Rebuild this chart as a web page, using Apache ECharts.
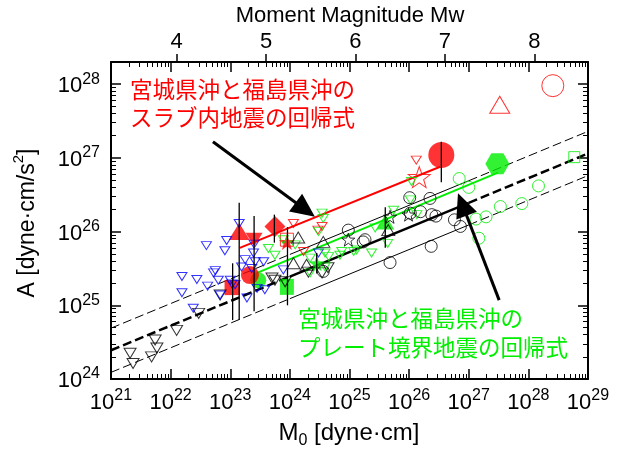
<!DOCTYPE html>
<html><head><meta charset="utf-8">
<script src="https://cdn.jsdelivr.net/npm/echarts@6/dist/echarts.min.js"></script>
<style>html,body{margin:0;padding:0;background:#fff}#c{width:623px;height:453px}</style>
</head><body><div id="c"></div>
<script>
// ---- data: [log10 M0 (dyne·cm), log10 A (dyne·cm/s^2)] ----
const blkDownTri = [[21.32,24.35],[21.37,24.21],[21.68,24.30],[21.74,24.53],[21.77,24.42],[22.10,24.66],[22.47,24.89],[22.83,25.14],[23.70,25.37],[23.75,25.34],[23.92,25.32],[24.31,25.45],[24.54,25.44],[24.64,25.51]];
const blueDownTri = [[22.19,25.39],[22.44,25.35],[22.62,25.26],[22.75,25.47],[22.72,25.44],[22.19,25.17],[22.83,25.14],[22.38,24.96],[22.60,25.81],[22.94,25.88],[22.91,25.74],[23.03,25.29],[23.08,25.28],[23.28,25.10],[23.39,25.71],[23.25,25.62],[23.19,25.52],[23.42,25.59],[23.56,25.59],[23.45,25.23],[23.15,26.11],[23.40,25.83],[23.36,25.50],[23.89,25.48],[23.58,25.21],[22.80,25.34],[24.48,25.71],[23.00,25.34]];
const redDownTri = [[24.06,26.11],[24.54,26.07],[24.23,25.73],[24.47,26.02],[26.12,26.97]];
const greenDownTri = [[24.54,26.25],[24.48,26.00],[23.64,25.77],[23.75,25.68],[24.09,25.82],[23.89,25.89],[24.34,25.64],[24.59,25.52],[24.84,25.68],[25.07,25.73],[25.37,25.71],[24.65,25.66],[24.56,26.18],[24.34,25.44],[24.59,25.71],[24.87,25.73],[25.12,25.75],[25.43,26.05],[25.64,25.84],[25.74,26.29],[26.04,26.68],[26.02,26.43],[26.13,26.23]];
const blkCircle = [[26.01,26.46],[26.35,26.45],[26.02,26.25],[26.19,26.27],[26.38,26.23],[26.45,26.21],[26.76,26.16],[26.86,26.07],[26.37,25.80],[25.68,25.58],[25.23,25.86],[24.98,26.02],[25.26,25.89],[24.56,25.46]];
const greenCircle = [[26.84,26.72],[27.00,26.60],[28.17,26.62],[27.89,26.38],[27.53,26.34],[27.29,26.20],[27.12,26.17],[27.17,25.91]];
const blkUpTri = [[24.56,25.86],[25.65,26.02],[24.14,25.92],[24.06,25.57],[24.28,25.55]];
const blkStar = [[24.98,25.89],[25.99,26.23],[25.68,26.20]];
const redFillTri = [[23.15,26.00]];
const redFillDownTri = [[23.40,25.89]];
const redFillDiamond = [[23.75,26.07]];
const redFillCircle = [[23.33,25.41]];
const redFillSquare = [[23.03,25.24]];
const redFillStar = [[23.95,25.86]];
const redBigCircle = [[26.54,27.04]];
const redOpenStar = [[26.17,26.74]];
const redOpenTri = [[27.52,27.72]];
const redOpenCircle = [[28.41,27.98]];
const redOpenSquare = [[23.95,25.89]];
const greenFillCircle = [[23.47,25.34]];
const greenFillSquare = [[23.95,25.25]];
const greenFillTri = [[25.60,26.13]];
const greenFillStar = [[24.45,25.57]];
const greenFillHex = [[27.48,26.92]];
const greenOpenSquare = [[28.77,27.01]];
// error bars: [log M0, log A high, log A low]
const errBars = [[23.15,26.39,24.80],[23.40,26.21,24.92],[23.04,25.57,24.80],[23.74,26.23,25.85],[23.96,26.06,25.00],[25.60,26.33,25.78],[26.54,27.22,26.67],[24.45,25.71,25.43]];
// regression lines
const meanDashL = [[21,24.39],[24,25.39]], meanSolid = [[24,25.39],[27,26.39]], meanDashR = [[27,26.39],[29,27.06]];
const upDashL = [[21,24.69],[24,25.69]], upSolid = [[24,25.69],[27,26.69]], upDashR = [[27,26.69],[29,27.36]];
const loDashL = [[21,24.09],[24,25.09]], loSolid = [[24,25.09],[27,26.09]], loDashR = [[27,26.09],[29,26.76]];
const redLine = [[23.16,25.78],[26.52,26.88]];
const greenLine = [[23.45,25.44],[27.49,26.80]];
// arrows: [tail logM, tail logA, tip logM, tip logA]
const arrows = [[22.71,27.22,24.42,26.20],[27.51,25.07,26.82,26.52]];
// axes
const X_RANGE = [21, 29];
const Y_RANGE = [24, Math.log10(2e28)];
const mwTicks = [4,5,6,7,8];
const minorFactors = [2,3,4,5,6,7,8,9];
const redText = ['宮城県沖と福島県沖の','スラブ内地震の回帰式'];
const greenText = ['宮城県沖と福島県沖の','プレート境界地震の回帰式'];

// ---- build ----
const LAT = '"Liberation Sans", Arial, sans-serif';
const CJK = '"Noto Sans CJK JP", sans-serif';
const RED = '#ff0000', GREEN = '#00ee00', BLUE = '#0000ff';
const toVal = a => a.map(p => [Math.pow(10,p[0]), Math.pow(10,p[1])]);
function minorList(r){ const o=[]; for(let d=Math.floor(r[0]); d<r[1]; d++) for(const f of minorFactors){const v=d+Math.log10(f); if(v>r[0]&&v<r[1]) o.push(v);} return o; }
function majorList(r){ const o=[]; for(let d=Math.ceil(r[0]); d<=r[1]; d++) o.push(d); return o; }
const mw = lm => (lm - 16.1) / 1.5;

const STAR = 'path://M50 0L61.76 33.82L97.55 34.55L69.02 56.18L79.39 90.45L50 70L20.61 90.45L30.98 56.18L2.45 34.55L38.24 33.82Z';
const HEX = 'path://M25 0L75 0L100 43.3L75 86.6L25 86.6L0 43.3Z';

function supFmt(v){ const l=Math.log10(v), e=Math.round(l); if(Math.abs(l-e)>1e-6) return ''; return '{b|10}{s|'+e+'}'; }
const supRich = {
  b:{fontSize:22,fontFamily:LAT,color:'#000',lineHeight:26,verticalAlign:'bottom'},
  s:{fontSize:16,fontFamily:LAT,color:'#000',lineHeight:14,verticalAlign:'top'}
};
const hide = {show:false};
function minorAxis(pos, r){
  return {type:'value', position:pos, min:r[0], max:r[1], axisLine:hide, axisLabel:hide, splitLine:hide,
    axisTick:{show:true, inside:true, length:5, customValues:minorList(r), lineStyle:{color:'#000',width:1}}};
}
function majorMirror(pos, r){
  return {type:'value', position:pos, min:r[0], max:r[1], axisLine:{show:true,lineStyle:{color:'#000',width:2}}, axisLabel:hide, splitLine:hide,
    axisTick:{show:true, inside:true, length:10, customValues:majorList(r), lineStyle:{color:'#000',width:1.5}}};
}

function scat(name, data, symbol, size, color, filled, rotate, z){
  return {type:'scatter', name, data:toVal(data), symbol, symbolSize:size, symbolRotate:rotate||0, z:z||3,
    itemStyle: filled ? {color, borderWidth:0} : {color:'rgba(0,0,0,0)', borderColor:color, borderWidth:1},
    emphasis:{disabled:true}, silent:true};
}
function line(data, color, width, type, z){
  return {type:'line', data:toVal(data), symbol:'none', z:z||2, silent:true,
    lineStyle:{color, width, type: type||'solid'}};
}

const series = [
  line(meanDashL,'#000',2.5,[9,4]), line(meanSolid,'#000',2.5), line(meanDashR,'#000',2.5,[9,4]),
  line(upDashL,'#000',1,[9,4]), line(upSolid,'#000',1), line(upDashR,'#000',1,[9,4]),
  line(loDashL,'#000',1,[9,4]), line(loSolid,'#000',1), line(loDashR,'#000',1,[9,4]),
  line(redLine,RED,2), line(greenLine,GREEN,2),
  scat('gfc',greenFillCircle,'circle',16,GREEN,true),
  scat('gfs',greenFillSquare,'rect',[14,16],GREEN,true),
  scat('gft',greenFillTri,'triangle',[18,15],GREEN,true),
  scat('gfst',greenFillStar,STAR,16,GREEN,true),
  scat('gfh',greenFillHex,HEX,[24,21],GREEN,true),
  scat('rft',redFillTri,'triangle',[21,17],RED,true),
  scat('rfdt',redFillDownTri,'triangle',[17,14],RED,true,180),
  scat('rfd',redFillDiamond,'diamond',[21,21],RED,true),
  scat('rfc',redFillCircle,'circle',18,RED,true),
  scat('rfs',redFillSquare,'rect',15,RED,true),
  scat('rfst',redFillStar,STAR,16,RED,true),
  scat('rbc',redBigCircle,'circle',26,RED,true),
  scat('ros',redOpenSquare,'rect',13,RED,false),
  scat('rost',redOpenStar,STAR,[22,21],RED,false),
  scat('rot',redOpenTri,'triangle',[20,17],RED,false),
  scat('roc',redOpenCircle,'circle',22,RED,false),
  scat('gos',greenOpenSquare,'rect',11,GREEN,false),
  scat('bdt',blkDownTri,'triangle',[12,10],'#000',false,180),
  scat('bluedt',blueDownTri,'triangle',[10,8],BLUE,false,180),
  scat('rdt',redDownTri,'triangle',[10,8],RED,false,180),
  scat('gdt',greenDownTri,'triangle',[10,8],GREEN,false,180),
  scat('bc',blkCircle,'circle',12,'#000',false),
  scat('gc',greenCircle,'circle',12,GREEN,false),
  scat('but',blkUpTri,'triangle',[13,11],'#000',false),
  scat('bst',blkStar,STAR,13,'#000',false),
  {type:'custom', silent:true, z:5, data:errBars.map(e=>[Math.pow(10,e[0]),Math.pow(10,e[1]),Math.pow(10,e[2])]),
    encode:{x:0,y:[1,2]},
    renderItem:(p,api)=>{const a=api.coord([api.value(0),api.value(1)]), b=api.coord([api.value(0),api.value(2)]);
      return {type:'line',shape:{x1:a[0],y1:a[1],x2:b[0],y2:b[1]},style:{stroke:'#000',lineWidth:1.3}};}},
  {type:'custom', silent:true, z:6, data:arrows.map(a=>a.map(v=>Math.pow(10,v))),
    encode:{x:[0,2],y:[1,3]},
    renderItem:(p,api)=>{const t=api.coord([api.value(0),api.value(1)]), h=api.coord([api.value(2),api.value(3)]);
      const dx=h[0]-t[0], dy=h[1]-t[1], L=Math.hypot(dx,dy), ux=dx/L, uy=dy/L, HL=24, HW=11;
      const bx=h[0]-ux*HL, by=h[1]-uy*HL;
      return {type:'group',children:[
        {type:'line',shape:{x1:t[0],y1:t[1],x2:bx+ux*2,y2:by+uy*2},style:{stroke:'#000',lineWidth:3}},
        {type:'polygon',shape:{points:[[h[0],h[1]],[bx-uy*HW,by+ux*HW],[bx+uy*HW,by-ux*HW]]},style:{fill:'#000'}}
      ]};}}
];

const option = {
  animation:false,
  backgroundColor:'#fff',
  grid:{left:111, top:62, width:477, height:317, show:false},
  xAxis:[
    {type:'log', logBase:10, position:'bottom', min:Math.pow(10,X_RANGE[0]), max:Math.pow(10,X_RANGE[1]),
      axisLine:{show:true,lineStyle:{color:'#000',width:2}}, splitLine:hide, minorTick:hide,
      axisTick:{show:true, inside:true, length:10, lineStyle:{color:'#000',width:1.5}},
      axisLabel:{show:true, margin:9, formatter:supFmt, rich:supRich, showMinLabel:true, showMaxLabel:true, hideOverlap:false}},
    minorAxis('bottom', X_RANGE),
    majorMirror('top', X_RANGE),
    minorAxis('top', X_RANGE),
    {type:'value', position:'top', min:mw(X_RANGE[0]), max:mw(X_RANGE[1]), splitLine:hide,
      axisLine:hide,
      axisTick:{show:true, inside:false, length:8, customValues:mwTicks, lineStyle:{color:'#000',width:1.5}},
      axisLabel:{show:true, margin:9, customValues:mwTicks, fontSize:22, fontFamily:LAT, color:'#000'}}
  ],
  yAxis:[
    {type:'log', logBase:10, position:'left', min:Math.pow(10,Y_RANGE[0]), max:Math.pow(10,Y_RANGE[1]),
      axisLine:{show:true,lineStyle:{color:'#000',width:2}}, splitLine:hide, minorTick:hide,
      axisTick:{show:true, inside:true, length:10, lineStyle:{color:'#000',width:1.5}},
      axisLabel:{show:true, margin:11, formatter:supFmt, rich:supRich, showMinLabel:true, hideOverlap:false}},
    minorAxis('left', Y_RANGE),
    majorMirror('right', Y_RANGE),
    minorAxis('right', Y_RANGE)
  ],
  series,
  graphic:[
    {type:'text', x:350, y:16, style:{text:'Moment Magnitude Mw', font:'22px '+LAT, fill:'#000', align:'center', verticalAlign:'middle'}},
    {type:'text', x:349, y:435, style:{text:'{a|M}{u|0}{a| [dyne·cm]}', align:'center', verticalAlign:'middle',
      rich:{a:{fontSize:24,fontFamily:LAT,fill:'#000',lineHeight:28,verticalAlign:'top'}, u:{fontSize:16,fontFamily:LAT,fill:'#000',lineHeight:16,verticalAlign:'bottom'}}}},
    {type:'text', x:25, y:223, rotation:Math.PI/2, style:{text:'{a|A [dyne·cm/s}{p|2}{a|]}', align:'center', verticalAlign:'middle',
      rich:{a:{fontSize:23,fontFamily:LAT,fill:'#000',lineHeight:28,verticalAlign:'bottom'}, p:{fontSize:15,fontFamily:LAT,fill:'#000',lineHeight:14,verticalAlign:'top'}}}},
    {type:'text', x:130, y:89, style:{text:redText[0], font:'22.5px '+CJK, fill:RED, align:'left', verticalAlign:'middle'}},
    {type:'text', x:130, y:117, style:{text:redText[1], font:'22.5px '+CJK, fill:RED, align:'left', verticalAlign:'middle'}},
    {type:'text', x:298, y:318, style:{text:greenText[0], font:'22.5px '+CJK, fill:GREEN, align:'left', verticalAlign:'middle'}},
    {type:'text', x:298, y:347, style:{text:greenText[1], font:'22.5px '+CJK, fill:GREEN, align:'left', verticalAlign:'middle'}}
  ]
};
const chart = echarts.init(document.getElementById('c'));
chart.setOption(option);
</script>
</body></html>
